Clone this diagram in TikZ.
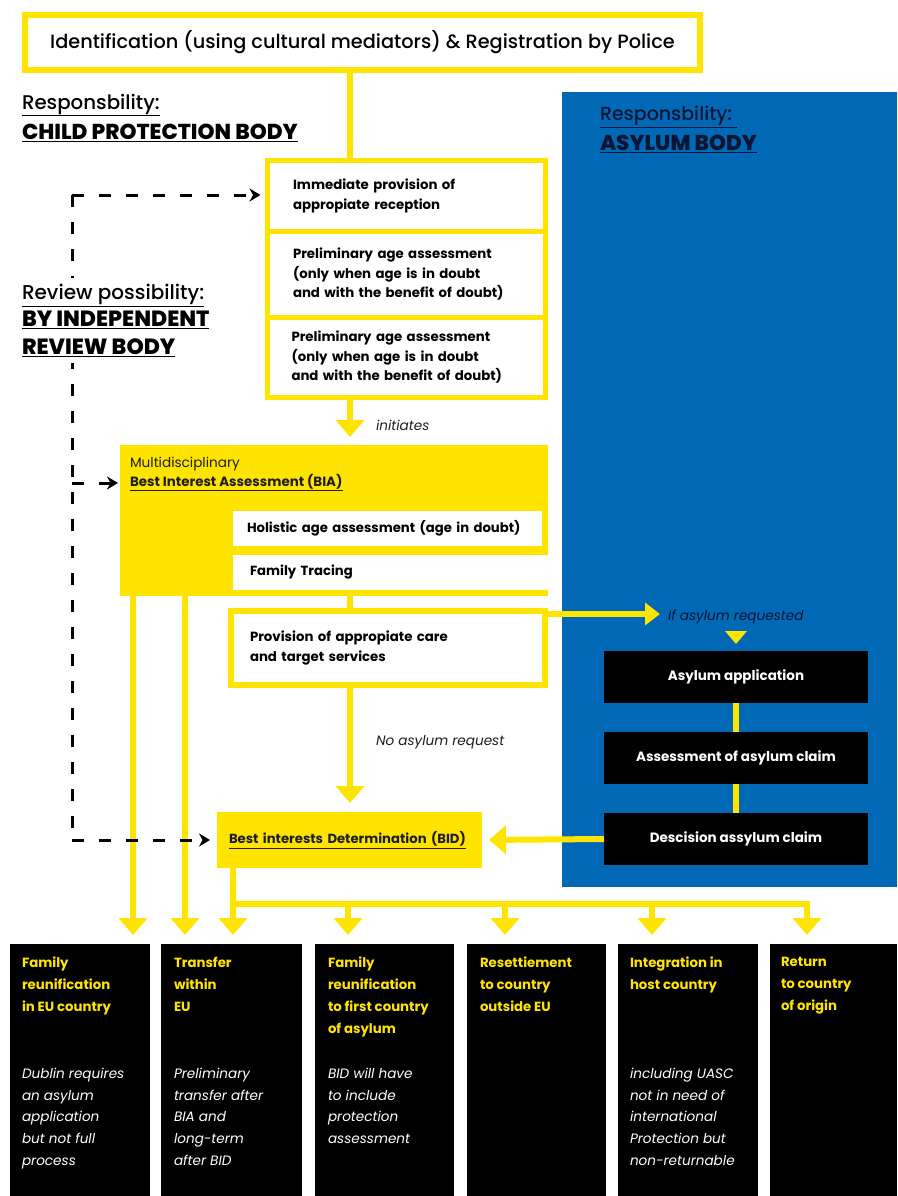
\documentclass[tikz,border=0pt]{standalone}
\usepackage{fontspec}
\setmainfont{Poppins}
\newfontfamily\medfont{Poppins Medium}
\newfontfamily\heavyfont{Poppins ExtraBold}
\usetikzlibrary{arrows.meta,calc}
\definecolor{ylw}{RGB}{255,228,0}
\definecolor{blu}{RGB}{0,104,180}
\definecolor{navy}{RGB}{8,22,52}
\definecolor{ink}{RGB}{30,30,30}
\newcommand{\myfs}[2]{\fontsize{#1}{#2}\selectfont}
\begin{document}
\begin{tikzpicture}[x=1pt,y=-1pt,
  every node/.style={inner sep=0pt, outer sep=0pt},
  yl/.style={draw=ylw, line width=6pt},
  yarr/.style={yl, -{Triangle[width=28pt,length=17pt]}},
  yarrs/.style={yl, -{Triangle[width=22pt,length=15pt]}},
  dline/.style={draw=black, line width=3pt, dash pattern=on 12pt off 15pt},
  darr/.style={dline, -{Stealth[length=11pt,width=13pt]}},
  ybox/.style={draw=ylw, line width=5.5pt, fill=white, anchor=north west, align=left, font=\myfs{13.3}{19.5}\bfseries},
  wbox/.style={fill=white, anchor=north west, align=left, font=\myfs{13.2}{16}\bfseries},
  kbox/.style={fill=black, text=white, anchor=north west, align=center, font=\myfs{13.5}{16}\bfseries, minimum width=264pt, minimum height=52pt},
  obox/.style={fill=black, anchor=north west, minimum height=252pt},
  otitle/.style={anchor=north west, align=left, text=ylw, font=\myfs{13.3}{22}\bfseries},
  odesc/.style={anchor=north west, align=left, text=white, font=\myfs{13.6}{21.7}\itshape},
  lbl/.style={anchor=west, align=left, text=ink, font=\myfs{13.6}{16}\itshape}
]
\useasboundingbox (0,0) rectangle (897,1196);
\fill[white] (0,0) rectangle (897,1196);

% blue responsibility area
\node[fill=blu, anchor=north west, minimum width=335pt, minimum height=795pt] (asyl) at (562,92) {};
\node[anchor=west, text=navy, font=\medfont\myfs{19}{22}] (resp2) at (600,117) {\underline{Responsbility:\ }};
\node[anchor=west, text=navy, font=\heavyfont\myfs{21.5}{22}] (abody) at (600,144) {\underline{ASYLUM BODY}};

% top box
\node[draw=ylw, line width=6pt, fill=white, anchor=north west, minimum width=675pt, minimum height=55pt, font=\medfont\myfs{19.3}{22}] (top) at (25,15) {Identification (using cultural mediators) \& Registration by Police};

% left labels
\node[anchor=west, font=\medfont\myfs{19.8}{22}] (resp1) at (22,105) {\underline{Responsbility:}};
\node[anchor=west, font=\heavyfont\myfs{21.6}{22}] (cpb) at (22,133) {\underline{CHILD PROTECTION BODY}};

% stacked boxes
\node[ybox, minimum width=278pt, minimum height=71pt, text width=227pt, inner xsep=25.5pt] (box1) at (267.5,160.5) {Immediate provision of\\appropiate reception};
\node[ybox, minimum width=278pt, minimum height=86pt, text width=227pt, inner xsep=25.5pt] (box2) at (267.5,231.5) {Preliminary age assessment\\(only when age is in doubt\\and with the benefit of doubt)};
\node[ybox, minimum width=278pt, minimum height=80pt, text width=230pt, inner xsep=22pt] (box3) at (267.5,317.5) {Preliminary age assessment\\(only when age is in doubt\\and with the benefit of doubt)};

% BIA
\node[fill=ylw, anchor=north west, minimum width=428pt, minimum height=151pt] (bia) at (120,445) {};
\node[anchor=north west, align=left, text=ink, font=\myfs{13.6}{19}] (biat) at (130,457) {Multidisciplinary\\{\bfseries\myfs{13.4}{19}\underline{Best Interest Assessment (BIA)}}};
\node[wbox, minimum width=309pt, minimum height=35pt, text width=281pt, inner xsep=14pt] (hol) at (233,511) {Holistic age assessment (age in doubt)};
\node[wbox, minimum width=309pt, minimum height=35pt, text width=281pt, inner xsep=17pt] (fam) at (233,555) {Family Tracing};

% provision
\node[ybox, line width=6pt, minimum width=314pt, minimum height=74pt, text width=276pt, inner xsep=19pt] (prov) at (231,611) {Provision of appropiate care\\and target services};

% asylum chain
\node[kbox] (app) at (604,651) {Asylum application};
\node[kbox] (ass) at (604,732) {Assessment of asylum claim};
\node[kbox] (dec) at (604,813) {Descision assylum claim};

% BID
\node[fill=ylw, anchor=north west, minimum width=253pt, minimum height=56pt, text width=241pt, inner xsep=12pt, align=left, font=\myfs{13.2}{16}\bfseries, text=ink] (bid) at (217,812) {\underline{Best interests Determination (BID)}};

% labels on connectors
\node[lbl] (lini) at (376,425) {initiates};
\node[lbl] (lno) at (376,742) {No asylum request};
\node[lbl, text=navy] (lif) at (668,617) {If asylum requested};

% outcome boxes
\node[obox, minimum width=140pt] (out1) at (10,944) {};
\node[obox, minimum width=141pt] (out2) at (161,944) {};
\node[obox, minimum width=139pt] (out3) at (315,944) {};
\node[obox, minimum width=139pt] (out4) at (467,944) {};
\node[obox, minimum width=140pt] (out5) at (618,944) {};
\node[obox, minimum width=127pt] (out6) at (770,944) {};

\node[otitle] (t1) at (22,957) {Family\\reunification\\in EU country};
\node[otitle] (t2) at (174,957) {Transfer\\within\\EU};
\node[otitle] (t3) at (328,957) {Family\\reunification\\to first country\\of asylum};
\node[otitle] (t4) at (480,957) {Resettiement\\to country\\outside EU};
\node[otitle] (t5) at (630,957) {Integration in\\host country};
\node[otitle] (t6) at (781,957) {Return\\to country\\of origin};

\node[odesc] (d1) at (22,1068) {Dublin requires\\an asylum\\application\\but not full\\process};
\node[odesc] (d2) at (174,1068) {Preliminary\\transfer after\\BIA and\\long-term\\after BID};
\node[odesc] (d3) at (328,1068) {BID will have\\to include\\protection\\assessment};
\node[odesc] (d5) at (630,1068) {including UASC\\not in need of\\international\\Protection but\\non-returnable};

% connectors
\coordinate (sx) at (350,0);
\draw[yl] (top.south -| sx) -- (box1.north -| sx);
\draw[yarr, shorten >=8pt] (box3.south -| sx) -- (bia.north -| sx);
\draw[yl] (bia.south -| sx) -- (prov.north -| sx);
\draw[yarr, shorten >=9pt] (prov.south -| sx) -- (bid.north -| sx);

\coordinate (ifa) at (660,614);
\draw[yarrs] (prov.east |- ifa) -- (ifa);
\fill[ylw] ($(app.north)+(-11,-20)$) -- ($(app.north)+(11,-20)$) -- ($(app.north)+(0,-7)$) -- cycle;

\draw[yl] (app.south) -- (ass.north);
\draw[yl] (ass.south) -- (dec.north);
\draw[yarr, shorten >=7pt] (dec.west) -- (bid.east);

% outcomes
\coordinate (c1) at (133,0);
\coordinate (c2) at (185,0);
\coordinate (c3) at (233,0);
\coordinate (c4) at (348,0);
\coordinate (c5) at (505,0);
\coordinate (c6) at (652,0);
\coordinate (c7) at (807,0);
\coordinate (hy) at (0,904);
\draw[yarr, shorten >=9pt] (bia.south -| c1) -- (out1.north -| c1);
\draw[yarr, shorten >=9pt] (bia.south -| c2) -- (out2.north -| c2);
\draw[yarr, shorten >=9pt] (bid.south -| c3) -- (out2.north -| c3);
\draw[yl, line cap=rect] (c3 |- hy) -- (c7 |- hy);
\draw[yarr, shorten >=9pt] (c4 |- hy) -- (out3.north -| c4);
\draw[yarr, shorten >=9pt] (c5 |- hy) -- (out4.north -| c5);
\draw[yarr, shorten >=9pt] (c6 |- hy) -- (out5.north -| c6);
\draw[yarr, shorten >=9pt] (c7 |- hy) -- (out6.north -| c7);

% review (dashed)
\coordinate (dv1) at (72,195);
\coordinate (dv2) at (72,840);
\coordinate (dv3) at (72,483);
\draw[dline] (dv1) -- (dv2);
\draw[darr, shorten >=7pt] (dv1) -- (box1.west |- dv1);
\draw[darr, shorten >=2pt] (dv3) -- (bia.west |- dv3);
\draw[darr, shorten >=7pt] (dv2) -- (bid.west |- dv2);
\node[fill=white, anchor=north west, align=left, inner ysep=6pt, font=\medfont\myfs{20}{27.5}] (rev) at (22,278) {\underline{Review possibility:}\\{\heavyfont\myfs{22}{27.5}\underline{BY INDEPENDENT}}\\{\heavyfont\myfs{22}{27.5}\underline{REVIEW BODY}}};
\end{tikzpicture}
\end{document}
